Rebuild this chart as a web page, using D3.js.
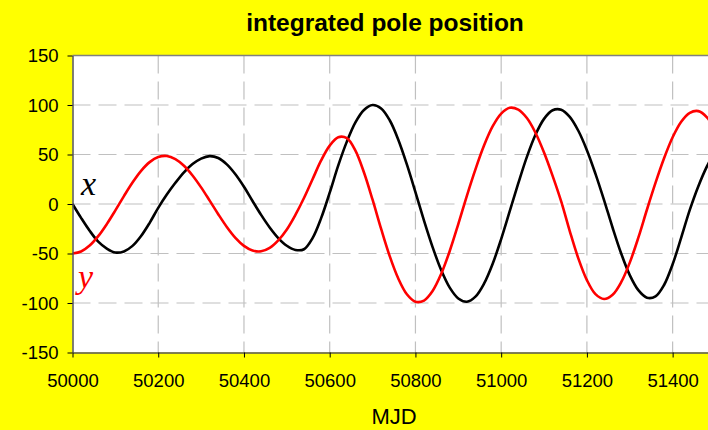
<!DOCTYPE html>
<html><head><meta charset="utf-8">
<script src="https://cdn.jsdelivr.net/npm/d3@7"></script>
<style>html,body{margin:0;padding:0;background:#ffff00;overflow:hidden}</style>
</head><body><svg id="c" width="708" height="430"></svg>
<script>
const mjd = [50000,50020,50040,50060,50080,50100,50120,50140,50160,50180,50200,50220,50240,50260,50280,50300,50320,50340,50360,50380,50400,50420,50440,50460,50480,50500,50520,50540,50560,50580,50600,50620,50640,50660,50680,50700,50720,50740,50760,50780,50800,50820,50840,50860,50880,50900,50920,50940,50960,50980,51000,51020,51040,51060,51080,51100,51120,51140,51160,51180,51200,51220,51240,51260,51280,51300,51320,51340,51360,51380,51400,51420,51440,51460,51480,51500];
const xPole = [0,-14,-27,-38,-45,-49,-47.9,-42.3,-32.3,-19,-3.9,9.5,21.4,32,40.3,45.9,48.4,46.5,40,30,17.4,3,-11,-23.7,-34.4,-42.2,-46.4,-45.7,-34.5,-14.3,11.4,39,63,82.5,95,100,96.5,84.6,65,40,12,-16.8,-43.5,-66.7,-84.5,-95.4,-98.7,-93.6,-80.5,-60.6,-35.4,-7.3,21,47.6,69.9,86,94.7,95.2,88,74,54.4,30.5,4,-24,-50,-71.8,-87,-94.6,-93.3,-81.8,-60.9,-34,-6,18,38,54];
const yPole = [-50,-48,-42,-32.5,-20.3,-6.5,8,21.7,33.5,42.3,47.4,48.5,45.3,38.6,28.8,16.8,3.4,-10.3,-23.2,-34.2,-42.3,-47,-47.8,-44.3,-36.7,-25.7,-11,6,25,44,59,67.5,66.5,53.9,31.8,4.3,-25.2,-52.7,-75.3,-91.2,-98.7,-97.5,-87.9,-70.7,-47.5,-20.3,8.3,35,59,78.3,91.3,97.2,95.3,86.8,72,52,28.4,2.6,-27.3,-54.9,-76.9,-91.1,-96,-91.7,-79,-59.2,-34,-5.8,21.3,46.2,67.4,83.1,92.1,93.8,87.6,74];
const xTicks = [50000,50200,50400,50600,50800,51000,51200,51400];
const yTicks = [-150,-100,-50,0,50,100,150];
const title = "integrated pole position";
const xTitle = "MJD";

const svg = d3.select("#c");
const L = 72.5, R = 715.5, T = 55.5, B = 352.5;
const x = d3.scaleLinear().domain([50000, 51500]).range([L, R]);
const y = d3.scaleLinear().domain([-150, 150]).range([B, T]);

svg.append("rect").attr("width",708).attr("height",430).attr("fill","#ffff00");
svg.append("rect").attr("x",L).attr("y",T).attr("width",R-L).attr("height",B-T).attr("fill","#fff");

const grid = svg.append("g").attr("stroke","#c0c0c0").attr("stroke-width",1.2).attr("stroke-dasharray","18,8");
yTicks.filter(v=>v!==150 && v!==-150).forEach(v=>{
  grid.append("line").attr("x1",L).attr("x2",R).attr("y1",y(v)).attr("y2",y(v));
});
xTicks.filter(v=>v!==50000).forEach(v=>{
  grid.append("line").attr("x1",x(v)).attr("x2",x(v)).attr("y1",T).attr("y2",B);
});
svg.append("line").attr("x1",L).attr("x2",R).attr("y1",T).attr("y2",T).attr("stroke","#808080").attr("stroke-width",1.5);

const defs = svg.append("defs");
defs.append("clipPath").attr("id","clip").append("rect").attr("x",L).attr("y",T-5).attr("width",R-L).attr("height",B-T+10);

const line = (vals) => d3.line().x((d,i)=>x(mjd[i])).y(d=>y(d)).curve(d3.curveCatmullRom)(vals);
const g = svg.append("g").attr("clip-path","url(#clip)");
g.append("path").attr("d",line(xPole)).attr("fill","none").attr("stroke","#000").attr("stroke-width",2.6);
g.append("path").attr("d",line(yPole)).attr("fill","none").attr("stroke","#ff0000").attr("stroke-width",2.6);

const fmt = d => String(d);
const ax = svg.append("g").attr("transform",`translate(0,${B})`).call(d3.axisBottom(x).tickValues(xTicks).tickFormat(fmt).tickSizeInner(5).tickSizeOuter(0));
const ay = svg.append("g").attr("transform",`translate(${L},0)`).call(d3.axisLeft(y).tickValues(yTicks).tickFormat(fmt).tickSizeInner(5).tickSizeOuter(0));
[ax, ay].forEach(a=>{
  a.select(".domain").attr("stroke","#555").attr("stroke-width",1.5);
  a.selectAll(".tick line").attr("stroke","#000").attr("stroke-width",1);
  a.selectAll("text").attr("font-family","Liberation Sans, Arial, sans-serif").attr("font-size",18.5).attr("fill","#000");
});
ax.selectAll("text").attr("dy",null).attr("y",34);
ay.selectAll("text").attr("x",-14).attr("dy","0.35em");

svg.append("text").attr("x",385).attr("y",31).attr("text-anchor","middle")
  .attr("font-family","Liberation Sans, Arial, sans-serif").attr("font-weight","bold").attr("font-size",24.5).text(title);
svg.append("text").attr("x",394).attr("y",424).attr("text-anchor","middle")
  .attr("font-family","Liberation Sans, Arial, sans-serif").attr("font-size",22).text(xTitle);

svg.append("text").attr("x",81).attr("y",195).attr("font-family","Liberation Serif, Times New Roman, serif").attr("font-style","italic").attr("font-size",34).attr("fill","#000").text("x");
svg.append("text").attr("x",78).attr("y",288).attr("font-family","Liberation Serif, Times New Roman, serif").attr("font-style","italic").attr("font-size",34).attr("fill","#ff0000").text("y");
</script></body></html>
